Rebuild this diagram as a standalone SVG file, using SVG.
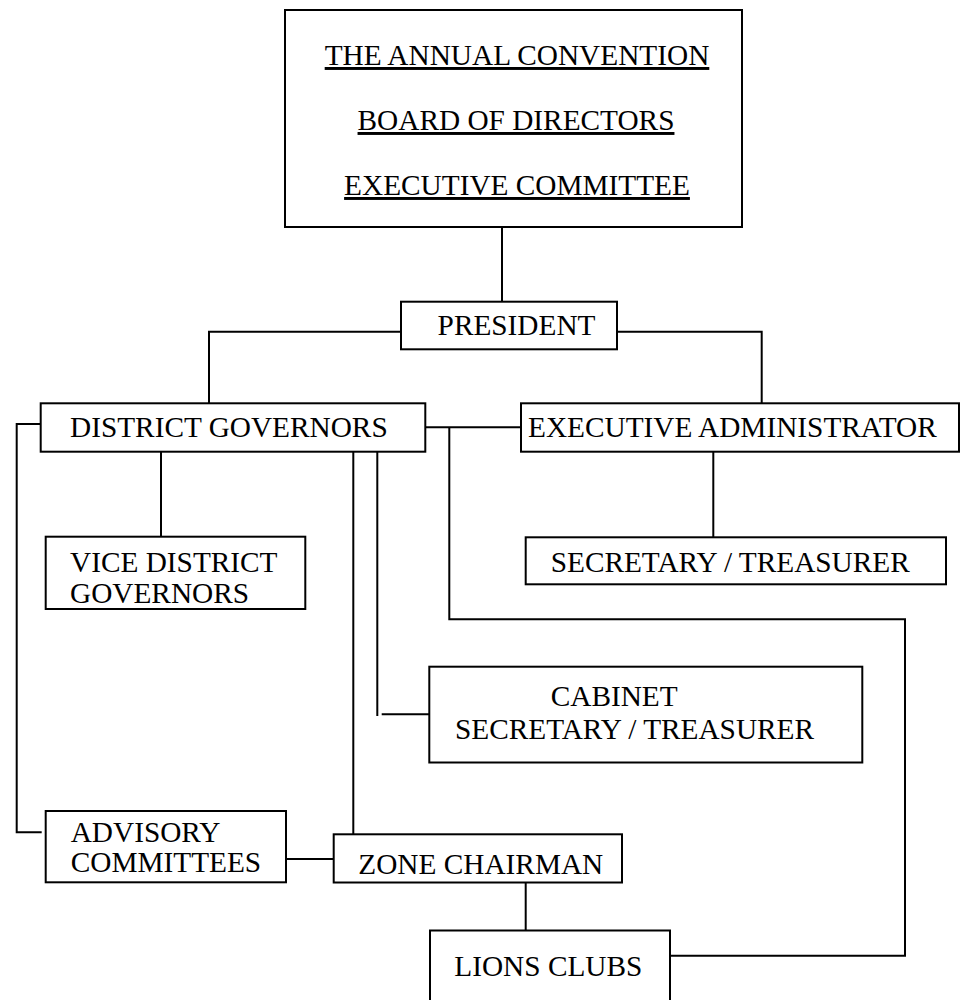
<svg xmlns="http://www.w3.org/2000/svg" width="962" height="1000" viewBox="0 0 962 1000">
<style>
.box{fill:#fff;stroke:#000;stroke-width:2}
.c{fill:none;stroke:#000;stroke-width:2}
text{font-family:"Liberation Serif","Times New Roman",serif;font-size:29.3px;fill:#000}
.u{text-decoration:underline}
</style>
<rect width="962" height="1000" fill="#fff"/>
<g id="connectors">
<path class="c" d="M502,227 V301.7"/>
<path class="c" d="M401,331.7 H209 V403.3"/>
<path class="c" d="M617,331.7 H761.7 V403.3"/>
<path class="c" d="M425.3,427.3 H521"/>
<path class="c" d="M449.3,427.3 V619.3 H905 V955.7 H665"/>
<path class="c" d="M40.7,424 H16.7 V832.3 H41.7"/>
<path class="c" d="M161,451.7 V546.7"/>
<path class="c" d="M377.3,451.7 V716"/>
<path class="c" d="M381.7,714.3 H429.3"/>
<path class="c" d="M353.3,451.7 V836"/>
<path class="c" d="M286,859 H333.7"/>
<path class="c" d="M713.3,451.7 V547"/>
<path class="c" d="M525.7,882.5 V930.5"/>
</g>
<g id="top">
<rect class="box" x="285" y="10" width="457" height="217"/>
<text class="u" x="517" y="65" text-anchor="middle">THE ANNUAL CONVENTION</text>
<text class="u" x="516" y="130" text-anchor="middle">BOARD OF DIRECTORS</text>
<text class="u" x="517" y="195" text-anchor="middle">EXECUTIVE COMMITTEE</text>
</g>
<g id="president">
<rect class="box" x="401" y="301.7" width="216" height="47.6"/>
<text x="437.6" y="335">PRESIDENT</text>
</g>
<g id="district-governors">
<rect class="box" x="40.7" y="403.3" width="384.6" height="48.4"/>
<text x="70" y="436.7">DISTRICT GOVERNORS</text>
</g>
<g id="executive-administrator">
<rect class="box" x="521" y="403.3" width="438" height="48.4"/>
<text x="528" y="436.7">EXECUTIVE ADMINISTRATOR</text>
</g>
<g id="vice-district-governors">
<rect class="box" x="45.7" y="536.7" width="259.6" height="72.3"/>
<text x="70" y="571.7">VICE DISTRICT</text>
<text x="70" y="603.3">GOVERNORS</text>
</g>
<g id="secretary-treasurer">
<rect class="box" x="525.7" y="537.3" width="420.3" height="47"/>
<text x="550.7" y="571.7">SECRETARY / TREASURER</text>
</g>
<g id="cabinet">
<rect class="box" x="429.3" y="666.7" width="433" height="95.8"/>
<text x="550.7" y="706">CABINET</text>
<text x="455" y="739.3">SECRETARY / TREASURER</text>
</g>
<g id="advisory">
<rect class="box" x="45.7" y="811" width="240.3" height="71.3"/>
<text x="70.7" y="841.7">ADVISORY</text>
<text x="70.7" y="871.7">COMMITTEES</text>
</g>
<g id="zone-chairman">
<rect class="box" x="333.7" y="834.3" width="288.3" height="48.2"/>
<text x="358.3" y="874.3">ZONE CHAIRMAN</text>
</g>
<g id="lions-clubs">
<rect class="box" x="430" y="930.5" width="240" height="80"/>
<text x="454.3" y="975.7">LIONS CLUBS</text>
</g>
</svg>
